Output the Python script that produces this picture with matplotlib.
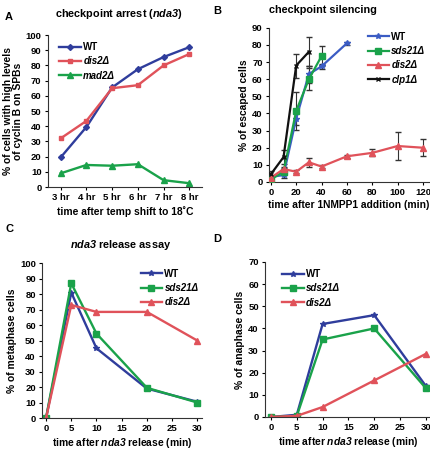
import matplotlib
matplotlib.use('Agg')
import matplotlib.pyplot as plt

plt.rcParams['font.family'] = ['Liberation Sans', 'DejaVu Sans']
plt.rcParams['font.weight'] = 'bold'
plt.rcParams['mathtext.fontset'] = 'custom'
plt.rcParams['mathtext.rm'] = 'Liberation Sans:bold'
plt.rcParams['mathtext.bf'] = 'Liberation Sans:bold'
plt.rcParams['mathtext.bfit'] = 'Liberation Sans:italic:bold'
plt.rcParams['mathtext.it'] = 'Liberation Sans:italic:bold'

BLUE = '#2f3d9c'
BLUE_B = '#3b5cc4'
RED = '#e0525a'
GREEN = '#1aa24a'
BLACK = '#111111'

# panel A
a_labels = ['3 hr', '4 hr', '5 hr', '6 hr', '7 hr', '8 hr']
a_wt = [19.5, 39.5, 65.5, 77.5, 85.5, 92]
a_dis2 = [32, 43.5, 65, 67, 80, 87.5]
a_mad2 = [9, 14.5, 14, 15, 4.5, 2.5]

# panel B
b_x_wt = [0, 10, 20, 30, 40, 60]
b_wt = [3, 4, 37, 63, 67.5, 81]
b_wt_err = [1, 1.5, 4, 5, 1.5, 1]
b_x_sds21 = [0, 10, 20, 30, 40]
b_sds21 = [1.5, 6, 41.5, 60, 73.5]
b_sds21_err = [1, 2, 11, 6.5, 6]
b_x_dis2 = [0, 10, 20, 30, 40, 60, 80, 100, 120]
b_dis2 = [2.5, 7.5, 6, 11.5, 9, 15, 17, 21, 20]
b_dis2_err = [1, 1, 1, 2.5, 1, 1, 2, 8, 5]
b_x_clp1 = [0, 10, 20, 30]
b_clp1 = [4.5, 14.5, 68, 76]
b_clp1_err = [2, 4, 7, 8.5]

# panels C and D
cd_x = [0, 5, 10, 20, 30]
c_wt = [0, 81, 45, 19, 10.5]
c_sds21 = [0, 87, 54.5, 19.5, 10]
c_dis2 = [0, 73, 68.5, 68.5, 50]
d_wt = [0, 1, 42, 46, 14]
d_sds21 = [0, 0.5, 35, 40, 13]
d_dis2 = [0, 0.5, 4.5, 16.5, 28.5]

TICK = 6.8
LAB = 7.4
TITLE = 7.8
NDA3 = '$\\mathbfit{nda3}$'


def style(ax):
    ax.spines['top'].set_visible(False)
    ax.spines['right'].set_visible(False)
    ax.spines['left'].set_color('#333333')
    ax.spines['bottom'].set_color('#333333')
    ax.tick_params(labelsize=TICK, length=2.5, width=0.8, pad=2)
    for t in ax.get_xticklabels() + ax.get_yticklabels():
        t.set_fontweight('bold')


def legend(ax, loc, anchor):
    leg = ax.legend(loc=loc, bbox_to_anchor=anchor, frameon=False,
                    prop={'size': 7, 'weight': 'bold'},
                    handlelength=2.2, labelspacing=0.45, borderaxespad=0,
                    handletextpad=0.25)
    for t in leg.get_texts()[1:]:
        t.set_fontstyle('italic')
    return leg


fig = plt.figure(figsize=(4.31, 4.49), dpi=100)

# ---- A
ax = fig.add_axes([0.111, 0.5835, 0.358, 0.3385])
xs = list(range(len(a_labels)))
ax.plot(xs, a_wt, color=BLUE, marker='D', ms=3, lw=1.7, label='WT')
ax.plot(xs, a_dis2, color=RED, marker='s', ms=3.4, lw=1.7, label='dis2\u0394')
ax.plot(xs, a_mad2, color=GREEN, marker='^', ms=3.8, lw=1.7, label='mad2\u0394')
ax.set_xlim(-0.5, 5.5)
ax.set_ylim(0, 100)
ax.set_yticks(range(0, 101, 10))
ax.set_xticks(xs)
ax.set_xticklabels(a_labels)
ax.tick_params(axis='x', length=0)
ax.set_xlabel('time after temp shift to 18\u02daC', fontsize=LAB, fontweight='bold', labelpad=3)
ax.set_ylabel('% of cells with high levels\nof cyclin B on SPBs', fontsize=LAB,
              fontweight='bold', labelpad=2, linespacing=1.0)
style(ax)
legend(ax, 'upper left', (0.05, 0.98))
fig.text(0.012, 0.955, 'A', fontsize=8, fontweight='bold')
fig.text(0.275, 0.962, 'checkpoint arrest (' + NDA3 + ')', fontsize=TITLE,
         fontweight='bold', ha='center')

# ---- B
ax = fig.add_axes([0.624, 0.5947, 0.372, 0.3433])
series_b = [
    (b_x_wt, b_wt, b_wt_err, BLUE_B, '*', 4.2, 'WT'),
    (b_x_sds21, b_sds21, b_sds21_err, GREEN, 's', 4.0, 'sds21\u0394'),
    (b_x_dis2, b_dis2, b_dis2_err, RED, '^', 4.0, 'dis2\u0394'),
    (b_x_clp1, b_clp1, b_clp1_err, BLACK, 'x', 3.2, 'clp1\u0394'),
]
for x, y, e, c, m, s, lab in series_b:
    ax.plot(x, y, color=c, marker=m, ms=s, lw=1.6, label=lab, zorder=3)
    ax.errorbar(x, y, yerr=e, fmt='none', capsize=2.2, elinewidth=0.8,
                ecolor='#333333', zorder=2)
ax.set_xlim(-1.5, 125)
ax.set_ylim(0, 90)
ax.set_yticks(range(0, 91, 10))
ax.set_xticks(range(0, 121, 20))
ax.set_xlabel('time after 1NMPP1 addition (min)', fontsize=LAB, fontweight='bold', labelpad=2)
ax.set_ylabel('% of escaped cells', fontsize=LAB, fontweight='bold', labelpad=2)
style(ax)
legend(ax, 'upper right', (1.0, 1.0))
fig.text(0.495, 0.968, 'B', fontsize=8, fontweight='bold')
fig.text(0.75, 0.972, 'checkpoint silencing', fontsize=TITLE, fontweight='bold', ha='center')

# ---- C
ax = fig.add_axes([0.0975, 0.069, 0.372, 0.345])
ax.plot(cd_x, c_wt, color=BLUE, marker='*', ms=3.8, lw=1.7, label='WT')
ax.plot(cd_x, c_sds21, color=GREEN, marker='s', ms=3.8, lw=1.7, label='sds21\u0394')
ax.plot(cd_x, c_dis2, color=RED, marker='^', ms=4, lw=1.7, label='dis2\u0394')
ax.set_xlim(-0.8, 31)
ax.set_ylim(0, 100)
ax.set_yticks(range(0, 101, 10))
ax.set_xticks(range(0, 31, 5))
ax.set_xlabel('time after ' + NDA3 + ' release (min)', fontsize=LAB, fontweight='bold', labelpad=2)
ax.set_ylabel('% of metaphase cells', fontsize=LAB, fontweight='bold', labelpad=2)
style(ax)
legend(ax, 'upper right', (1.0, 0.99))
fig.text(0.012, 0.484, 'C', fontsize=8, fontweight='bold')
fig.text(0.28, 0.448, NDA3 + ' release assay', fontsize=TITLE, fontweight='bold', ha='center')

# ---- D
ax = fig.add_axes([0.615, 0.0713, 0.385, 0.3452])
ax.plot(cd_x, d_wt, color=BLUE, marker='*', ms=3.8, lw=1.7, label='WT')
ax.plot(cd_x, d_sds21, color=GREEN, marker='s', ms=3.8, lw=1.7, label='sds21\u0394')
ax.plot(cd_x, d_dis2, color=RED, marker='^', ms=4, lw=1.7, label='dis2\u0394')
ax.set_xlim(-1.15, 31)
ax.set_ylim(0, 70)
ax.set_yticks(range(0, 71, 10))
ax.set_xticks(range(0, 31, 5))
ax.set_xlabel('time after ' + NDA3 + ' release (min)', fontsize=LAB, fontweight='bold', labelpad=2)
ax.set_ylabel('% of anaphase cells', fontsize=LAB, fontweight='bold', labelpad=2)
style(ax)
legend(ax, 'upper left', (0.08, 0.98))
fig.text(0.495, 0.462, 'D', fontsize=8, fontweight='bold')

fig.savefig('out.png', dpi=100)
